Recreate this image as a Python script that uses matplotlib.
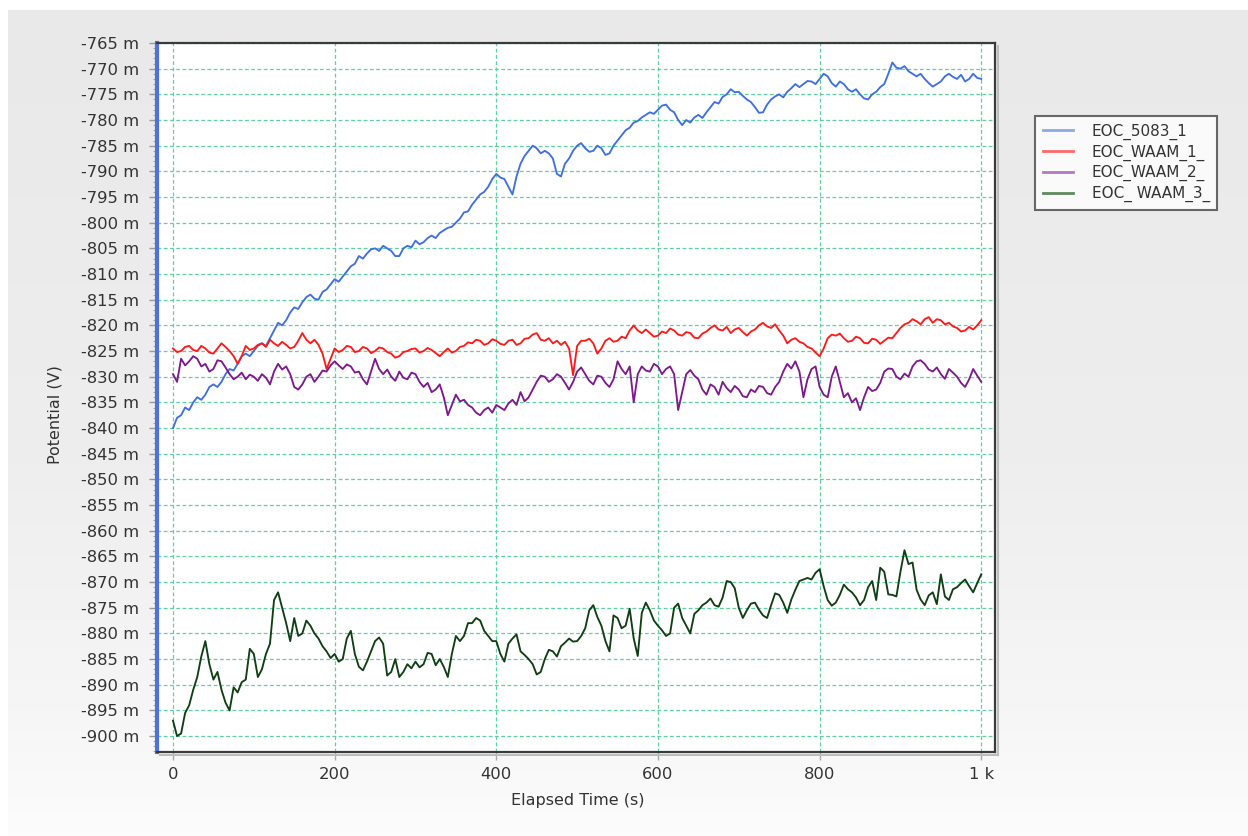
import numpy as np
import matplotlib
matplotlib.use("Agg")
import matplotlib.pyplot as plt
from matplotlib.ticker import MultipleLocator, FixedLocator, FuncFormatter
from matplotlib.colors import LinearSegmentedColormap
from matplotlib.lines import Line2D

# ---------------- data (potential in mV, time in s, sampled every 5 s) ----------------
time_s = list(range(0, 1001, 5))

eoc_5083_1 = [
    -840, -838, -837.5, -836, -836.5, -835, -834, -834.5, -833.5, -832,
    -831.5, -832, -831, -829.5, -828.5, -828.8, -827.5, -826, -825.5, -826,
    -825, -824, -823.5, -824, -822.5, -821, -819.5, -820, -819, -817.5,
    -816.5, -816.8, -815.5, -814.5, -814, -814.8, -815, -813.5, -813, -812,
    -811, -811.5, -810.5, -809.5, -808.5, -808, -806.5, -807, -806, -805.2,
    -805, -805.5, -804.5, -805, -805.5, -806.5, -806.5, -805, -804.5, -804.8,
    -803.5, -804.2, -803.8, -803, -802.5, -803, -802, -801.5, -801, -800.8,
    -800, -799.2, -798, -797.8, -796.5, -795.5, -794.5, -794, -793, -791.5,
    -790.5, -791.2, -791.5, -793, -794.5, -791, -788.5, -787, -786, -785,
    -785.5, -786.5, -786, -786.5, -787.5, -790.5, -791, -788.5, -787.5, -786,
    -785, -784.5, -785.5, -786.2, -786, -785, -785.5, -786.8, -786.5, -785,
    -784, -783, -782, -781.5, -780.5, -780.2, -779.5, -779, -778.5, -778.8,
    -778, -777.2, -777, -778, -778.5, -780, -781, -780, -780.5, -779.5,
    -779, -779.6, -778.5, -777.5, -776.5, -776.8, -775.5, -775, -774, -774.6,
    -774.5, -775.3, -776, -776.5, -777.5, -778.6, -778.5, -777, -776, -775.4,
    -775, -775.6, -774.5, -773.8, -773, -773.6, -773, -772.4, -772.5, -773,
    -772, -771, -771.5, -772.8, -773.5, -772.5, -773, -774, -774.5, -774,
    -775, -775.8, -776, -775, -774.5, -773.6, -773, -771, -768.8, -769.8,
    -770, -769.5, -770.5, -771, -771.5, -771, -772, -772.8, -773.5, -773,
    -772.5, -771.5, -771, -771.6, -772, -771.2, -772.5, -772, -771, -771.8,
    -772]

eoc_waam_1 = [
    -824.5, -825.2, -825, -824.2, -824, -824.8, -825, -824, -824.5, -825.3,
    -825.5, -824.5, -823.5, -824.2, -825, -826, -827.5, -826, -824, -824.8,
    -824.5, -823.8, -823.5, -824.2, -822.8, -823.5, -824, -823.2, -823.8, -824.5,
    -824.2, -823, -821.5, -822.8, -823.5, -822.8, -823.8, -825.5, -828.5, -826.5,
    -824.5, -825.2, -824.8, -824, -824.2, -825.2, -825, -824.2, -824.5, -825.4,
    -825, -824.3, -824.5, -825.2, -825.5, -826.3, -826, -825.2, -825, -824.6,
    -824.5, -825.3, -825, -824.4, -824.8, -825.4, -826, -825.2, -824.5, -825.3,
    -825, -824.2, -824, -823.3, -823.5, -822.8, -823, -823.8, -823.5, -822.7,
    -823, -823.6, -823.8, -823, -822.8, -823.8, -823.5, -822.6, -822.5, -821.8,
    -821.5, -822.8, -823, -822.5, -823.5, -823, -823.8, -823.2, -824.5, -829.7,
    -824, -823, -823, -822.6, -823.5, -825.5, -824.5, -823, -822.5, -823.2,
    -823, -822.2, -822.5, -821, -820, -821, -821.5, -820.8, -821.5, -822.2,
    -822, -821.2, -821.5, -820.6, -821, -821.8, -822, -821.3, -821.5, -822.4,
    -822.5, -821.6, -821.2, -820.5, -820, -820.8, -821, -820.3, -821.5, -820.8,
    -820.5, -821.3, -822, -821.2, -820.8, -820, -819.5, -820.2, -820.5, -819.8,
    -821, -822, -823.5, -822.8, -822.5, -823.2, -823.5, -824.2, -824.5, -825.3,
    -826, -824.5, -822.5, -821.8, -822, -821.6, -822.5, -823.2, -823, -822.2,
    -822.5, -823.4, -823.5, -822.6, -822.8, -823.6, -823, -822.4, -822.5, -821.5,
    -820.5, -819.8, -819.5, -818.8, -819.2, -819.8, -818.8, -818.4, -819.5, -818.8,
    -819, -819.8, -819.5, -820.2, -820.5, -821.2, -821, -820.3, -820.8, -820,
    -819]

eoc_waam_2 = [
    -829.5, -831, -826.5, -827.8, -827, -826, -826.5, -828, -827.5, -829,
    -828.5, -826.8, -827, -828.2, -829.5, -830.5, -830, -829.2, -830.5, -829.6,
    -830, -830.8, -829.5, -830.2, -831.5, -829, -827.5, -828.6, -828, -829.5,
    -832, -832.5, -831.5, -830, -829.5, -831, -830, -828.8, -829, -827.8,
    -827, -827.8, -828.5, -827.6, -828, -829.2, -829, -830.5, -831.5, -829,
    -826.5, -828.5, -829.5, -828.6, -830, -830.8, -829, -830.2, -830.5, -829.2,
    -829.5, -831, -832, -831.2, -833, -832.5, -831.5, -834, -837.5, -835.5,
    -833.5, -834.8, -834.5, -835.5, -836, -837, -837.5, -836.5, -836, -837,
    -835.5, -836, -836.5, -835.2, -834.5, -835.5, -833, -834.8, -834, -832.5,
    -831, -829.8, -830, -831, -830.5, -829.5, -830, -831.2, -832.5, -831,
    -829, -828.2, -829.5, -830.8, -831.5, -829.8, -830, -831.2, -832, -830.5,
    -827, -828.5, -829.5, -828, -835, -829.5, -828, -828.8, -829, -827.5,
    -828, -829.5, -828.5, -828, -829.5, -836.5, -833, -829.5, -828.7, -829.8,
    -830.5, -832.5, -833.5, -831.5, -832, -833.5, -831, -832.2, -833, -831.8,
    -832.5, -833.8, -834, -832.5, -833, -831.8, -832, -833.2, -833.5, -832,
    -831, -829, -827.5, -828.4, -827, -829, -834, -830.5, -828.5, -828,
    -832, -833.5, -834, -830, -828, -831, -834, -833.2, -835, -834.2,
    -836.5, -834, -832, -832.8, -832.5, -831.2, -829, -828.4, -828.5, -830,
    -830.5, -829.4, -830, -828, -827, -826.8, -827.5, -828.6, -829, -828.2,
    -829.5, -830.4, -828.5, -829.2, -830, -831.2, -832, -830.5, -828.5, -829.8,
    -831]

eoc_waam_3 = [
    -897, -900, -899.5, -895.5, -894, -891, -888.5, -884.5, -881.5, -886,
    -889, -887.5, -891, -893.5, -895, -890.5, -891.5, -889.5, -889, -883,
    -884, -888.5, -887, -884, -882, -873.5, -872, -875, -878, -881.5,
    -877, -880.5, -880, -877.5, -878.5, -880, -881, -882.5, -883.5, -884.8,
    -884, -885.5, -885, -881, -879.5, -884, -886.5, -887.2, -885.5, -883.5,
    -881.5, -880.8, -882, -888.2, -887.5, -885, -888.5, -887.5, -886, -886.8,
    -885.5, -886.6, -886, -883.8, -884, -886.2, -885, -886.5, -888.5, -884,
    -880.5, -881.5, -880.5, -878, -878, -877, -877.5, -879.5, -880.5, -881.5,
    -881.5, -884, -885.5, -882, -881, -880.2, -883.5, -884.2, -885, -886,
    -888, -887.5, -885, -883.2, -883.5, -884.5, -882.5, -881.8, -881, -881.6,
    -881.5, -880.5, -879, -875.5, -874.5, -876.8, -878.5, -881.5, -883.5, -876.5,
    -877, -879, -878.5, -875.2, -881, -884.4, -876, -874, -875.5, -877.5,
    -878.5, -879.4, -880.5, -880, -875, -874.2, -877, -878.5, -880, -876.2,
    -875.5, -874.5, -874, -873.2, -874.5, -874.8, -873, -869.8, -870, -871.2,
    -875, -877, -875.5, -874.2, -874, -875.4, -876.5, -877, -874.5, -872.2,
    -872.5, -874, -876, -873.4, -871.5, -869.8, -869.5, -869.2, -869.5, -868.2,
    -867.5, -870.8, -873.5, -874.6, -874, -872.5, -870.5, -871.4, -872, -873,
    -874.5, -873.5, -871, -869.8, -873.5, -867.2, -868, -872.4, -872.5, -872.8,
    -868, -863.8, -866.5, -866.2, -871.5, -873.4, -874.5, -872.6, -872, -874.3,
    -868.5, -872.8, -873.5, -871.4, -871, -870.2, -869.5, -870.8, -872, -870.2,
    -868.5]

series_names = ["EOC_5083_1", "EOC_WAAM_1_", "EOC_WAAM_2_", "EOC_ WAAM_3_"]
series_colors = ["#3f6fe0", "#ff1a1a", "#7d1a8c", "#0f3f12"]
legend_colors = ["#8fa8ec", "#ff6b6b", "#b07ac0", "#5f8a5f"]

y_ticks = list(range(-900, -764, 5))
x_ticks = [0, 200, 400, 600, 800, 1000]
x_tick_labels = ["0", "200", "400", "600", "800", "1 k"]

# ---------------- figure ----------------
W, H = 1248, 836
fig = plt.figure(figsize=(W / 100, H / 100), dpi=100)
fig.patch.set_facecolor("white")

bg = fig.add_axes([0, 0, 1, 1], zorder=-10)
bg.set_xlim(0, 1)
bg.set_ylim(0, 1)
bg.axis("off")
grad = np.linspace(0, 1, 256).reshape(-1, 1)
cmap = LinearSegmentedColormap.from_list(
    "bgc", [(0, "#e9e9e9"), (0.55, "#eeeeee"), (0.85, "#f6f6f6"), (1, "#fcfcfc")])
bg.imshow(grad, cmap=cmap, aspect="auto",
          extent=[8 / W, 1, 0, 1 - 10 / H], origin="upper", zorder=0)

L, R, T, B = 157, 995, 43, 752
ax = fig.add_axes([L / W, 1 - B / H, (R - L) / W, (B - T) / H])
ax.set_facecolor("white")

data = [eoc_5083_1, eoc_waam_1, eoc_waam_2, eoc_waam_3]
for vals, name, col in zip(data, series_names, series_colors):
    ax.plot(time_s, vals, color=col, lw=1.35, label=name, zorder=3)

ax.set_xlim(-19.8, 1017)
ax.set_ylim(-903.1, -765)

ax.yaxis.set_major_locator(FixedLocator(y_ticks))
ax.yaxis.set_minor_locator(MultipleLocator(1))
ax.yaxis.set_major_formatter(FuncFormatter(lambda v, p: f"{int(round(v))} m"))
ax.xaxis.set_major_locator(FixedLocator(x_ticks))
ax.xaxis.set_major_formatter(FuncFormatter(
    lambda v, p: x_tick_labels[x_ticks.index(int(round(v)))] if int(round(v)) in x_ticks else ""))

ax.grid(True, which="major", color="#5fd0a0", linestyle=(0, (3, 2)), linewidth=0.9, zorder=1)
ax.set_axisbelow(True)

ax.tick_params(axis="y", which="major", length=6, width=1, color="#999999",
               labelsize=11.8, labelcolor="#333333", pad=7)
ax.tick_params(axis="y", which="minor", length=3, width=0.8, color="#aaaaaa")
ax.tick_params(axis="x", which="major", length=6, width=1, color="#aaaaaa",
               labelsize=11.8, labelcolor="#333333", pad=5)

ax.spines["left"].set_color("#4a72e6")
ax.spines["left"].set_linewidth(3)
for s in ["top", "right", "bottom"]:
    ax.spines[s].set_color("#3a3a3a")
    ax.spines[s].set_linewidth(1.6)

# subtle drop shadow on right / bottom edges of the plot box
fig.add_artist(Line2D([(R + 2.5) / W, (R + 2.5) / W], [1 - (T + 3) / H, 1 - (B + 2.5) / H],
                      color="#bdbdbd", lw=1.5))
fig.add_artist(Line2D([(L + 3) / W, (R + 2.5) / W], [1 - (B + 2.5) / H, 1 - (B + 2.5) / H],
                      color="#bdbdbd", lw=1.5))

fig.text(55 / W, 1 - 415 / H, "Potential (V)", rotation=90, ha="center", va="center",
         fontsize=11.5, color="#333333")
fig.text(578 / W, 1 - 800 / H, "Elapsed Time (s)", ha="center", va="center",
         fontsize=11.5, color="#333333")

handles = [Line2D([0], [0], color=c, lw=2) for c in legend_colors]
leg = fig.legend(handles, series_names, loc="upper left",
                 bbox_to_anchor=(1035 / W, 1 - 116 / H), bbox_transform=fig.transFigure,
                 frameon=True, fancybox=False, edgecolor="#444444", facecolor="white",
                 fontsize=11, handlelength=2.0, labelspacing=0.3, borderpad=0.5,
                 handletextpad=1.2, borderaxespad=0)
leg.get_frame().set_linewidth(1.5)
for txt in leg.get_texts():
    txt.set_color("#333333")

fig.savefig("out.png", dpi=100, facecolor=fig.get_facecolor())
